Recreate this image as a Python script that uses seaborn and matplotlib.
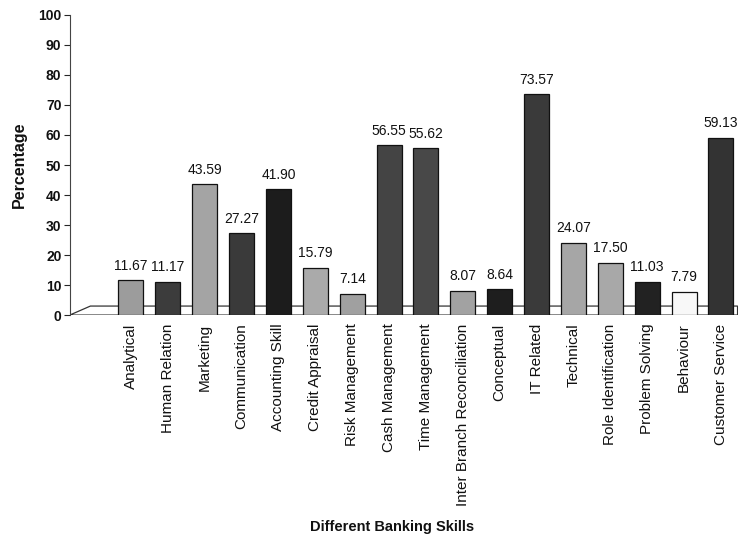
import numpy as np
import pandas as pd
import matplotlib
matplotlib.use('Agg')
import matplotlib.pyplot as plt
import seaborn as sns
from matplotlib.patches import Polygon

skills = ['Analytical', 'Human Relation', 'Marketing', 'Communication', 'Accounting Skill',
          'Credit Appraisal', 'Risk Management', 'Cash Management', 'Time Management',
          'Inter Branch Reconciliation', 'Conceptual', 'IT Related', 'Technical',
          'Role Identification', 'Problem Solving', 'Behaviour', 'Customer Service']
percentages = [11.67, 11.17, 43.59, 27.27, 41.90, 15.79, 7.14, 56.55, 55.62,
               8.07, 8.64, 73.57, 24.07, 17.50, 11.03, 7.79, 59.13]
bar_colors = ['#9c9c9c', '#3c3c3c', '#a4a4a4', '#3a3a3a', '#1c1c1c', '#aaaaaa', '#a0a0a0',
              '#444444', '#484848', '#a2a2a2', '#1e1e1e', '#3a3a3a', '#a6a6a6',
              '#a8a8a8', '#222222', '#f8f8f8', '#333333']

df = pd.DataFrame({'Skill': skills, 'Percentage': percentages})

sns.set_style('white')
fig = plt.figure(figsize=(7.42, 5.34), dpi=100)
ax = fig.add_axes([0.094, 0.41, 0.9, 0.562])

# floor of the pseudo-3D chart
floor = Polygon([(-1.66, 0), (-1.1, 3), (16.45, 3), (16.45, 0)], closed=True,
                facecolor='white', edgecolor='#333333', linewidth=0.9, zorder=1)
ax.add_patch(floor)

sns.barplot(data=df, x='Skill', y='Percentage', hue='Skill', palette=bar_colors,
            legend=False, width=0.68, edgecolor='#111111', linewidth=0.9, ax=ax, zorder=2)

for i, v in enumerate(percentages):
    ax.text(i, v + 2.5, f'{v:.2f}', ha='center', va='bottom', fontsize=10,
            color='#111111', family='Liberation Sans')

ax.set_xlim(-1.66, 16.45)
ax.set_ylim(0, 100)
ax.set_yticks(range(0, 101, 10))
ax.set_yticklabels([str(t) for t in range(0, 101, 10)], fontsize=10, fontweight='bold',
                   color='#111111', family='Liberation Sans')
ax.set_xticks(range(len(skills)))
ax.set_xticklabels(skills, rotation=90, fontsize=11, color='#111111', family='Liberation Sans')
ax.tick_params(axis='y', direction='out', length=4, width=0.8, pad=2, left=True)
ax.tick_params(axis='x', length=0, pad=6)

for side in ['top', 'right', 'bottom']:
    ax.spines[side].set_visible(False)
ax.spines['left'].set_color('#444444')
ax.spines['left'].set_linewidth(0.8)

ax.set_ylabel('Percentage', fontsize=11.5, fontweight='bold', color='#111111',
              family='Liberation Sans', labelpad=8)
ax.set_xlabel('')
fig.text(0.528, 0.0, 'Different Banking Skills', ha='center', va='bottom', fontsize=10.5,
         fontweight='bold', color='#111111', family='Liberation Sans')

fig.savefig('out.png', dpi=100)
